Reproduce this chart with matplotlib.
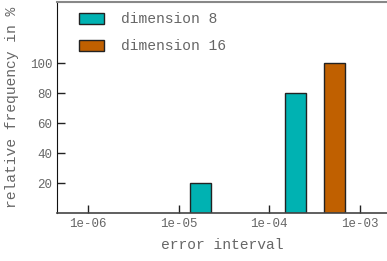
import numpy as np
import matplotlib
matplotlib.use("Agg")
import matplotlib.pyplot as plt

# histogram data (relative frequency in %)
dim8_x = [1.75e-5, 1.94e-4]
dim8_freq = [20, 80]
dim16_x = [5.22e-4]
dim16_freq = [100]
bar_width_dec = 0.236  # bar width in decades

xticks = [1e-6, 1e-5, 1e-4, 1e-3]
xticklabels = ["1e-06", "1e-05", "1e-04", "1e-03"]
yticks = [20, 40, 60, 80, 100]

teal = "#00b2b2"
orange = "#c06000"
grey = "#666666"

plt.rcParams["font.family"] = ["Liberation Mono", "DejaVu Sans Mono"]

fig = plt.figure(figsize=(3.87, 2.61), dpi=100)
ax = fig.add_axes([57 / 387, 48 / 261, 330 / 387, 211 / 261])


def bars(xs, hs, color, label):
    lx = np.log10(xs)
    left = 10 ** (lx - bar_width_dec / 2)
    right = 10 ** (lx + bar_width_dec / 2)
    ax.bar(left, hs, width=right - left, align="edge", color=color,
           edgecolor="#222222", linewidth=1.0, label=label)


bars(dim8_x, dim8_freq, teal, "dimension 8")
bars(dim16_x, dim16_freq, orange, "dimension 16")

ax.set_xscale("log")
ax.set_xlim(10 ** -6.343, 10 ** -2.70)
ax.set_ylim(0, 140.7)
ax.set_xticks(xticks)
ax.set_xticklabels(xticklabels)
ax.minorticks_off()
ax.set_yticks(yticks)
ax.tick_params(direction="in", length=6, width=1, labelsize=9,
               colors="#222222")
for lab in ax.get_xticklabels() + ax.get_yticklabels():
    lab.set_color(grey)

ax.spines["right"].set_visible(False)
ax.spines["top"].set_color("#888888")
ax.spines["top"].set_linewidth(1.5)
ax.spines["left"].set_color("#111111")
ax.spines["bottom"].set_color("#444444")
ax.spines["bottom"].set_linewidth(1.2)

ax.set_xlabel("error interval", fontsize=10.5, color=grey, labelpad=6)
ax.set_ylabel("relative frequency in %", fontsize=10.5, color=grey, labelpad=8)

ax.legend(loc="upper left", frameon=False, fontsize=10.5, handlelength=1.7,
          handleheight=0.8, labelcolor=grey, borderaxespad=0.3,
          bbox_to_anchor=(0.037, 1.0), labelspacing=0.9, handletextpad=1.15)

fig.savefig("out.png", dpi=100)
